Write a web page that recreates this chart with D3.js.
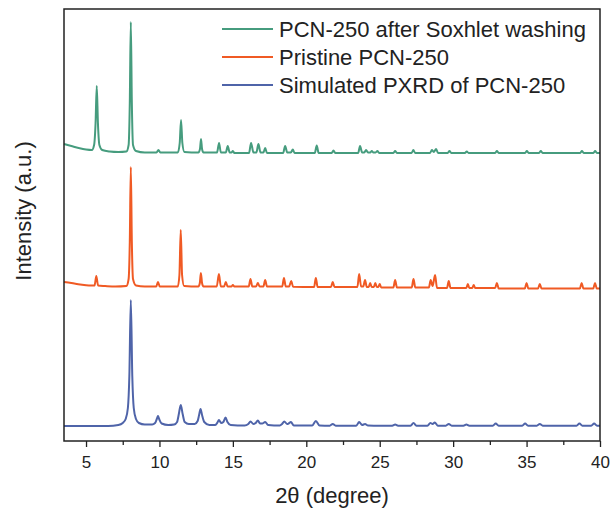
<!DOCTYPE html>
<html>
<head>
<meta charset="utf-8">
<script src="https://cdn.jsdelivr.net/npm/d3@7"></script>
<style>
  body { margin: 0; background: #fff; }
  text { font-family: "Liberation Sans", Arial, sans-serif; fill: #222; }
</style>
</head>
<body>
<svg id="chart" width="613" height="510"></svg>
<script>
// 2theta (deg), intensity above each pattern's own baseline (a.u.)
var soxhlet = [
  [3.5,9],[4.0,7],[4.5,5],[5.0,3.5],[5.4,3],[5.55,8],[5.65,30],[5.73,67],[5.81,30],[5.91,8],[6.1,3],[6.6,1.5],[7.2,1],
  [7.75,1.5],[7.9,8],[7.98,50],[8.05,131],[8.12,50],[8.2,8],[8.4,2],[9.0,0.5],[9.8,0.5],[9.93,3],[10.06,0.5],
  [11.25,0.5],[11.38,10],[11.47,33],[11.56,10],[11.7,1],[12.65,0.5],[12.76,4],[12.83,14],[12.9,4],[13.0,0.5],
  [13.92,0.5],[14.06,10],[14.18,0.5],[14.52,0.5],[14.65,7],[14.78,0.5],[14.9,0.5],[15.0,2],[15.1,0],
  [16.1,0],[16.24,10],[16.4,0.5],[16.6,0.5],[16.74,9],[16.88,0.5],[17.08,0.5],[17.2,5],[17.32,0],
  [18.42,0],[18.56,7],[18.7,0.5],[18.95,0.5],[19.08,3.5],[19.2,0],[20.58,0],[20.71,7.5],[20.84,0],
  [21.73,0],[21.85,2.5],[21.97,0],[23.53,0],[23.66,7],[23.8,0.5],[23.95,0.5],[24.07,3],[24.2,0.5],
  [24.35,0.5],[24.46,2],[24.57,0.5],[24.72,0.5],[24.84,2],[24.96,0],[25.93,0],[26.05,2],[26.17,0],
  [27.17,0],[27.29,3],[27.41,0],[28.43,0],[28.55,3],[28.68,1],[28.84,4],[28.97,0],[29.63,0],[29.75,2],[29.87,0],
  [30.8,0],[30.93,1.5],[31.05,0],[32.86,0],[32.98,2],[33.1,0],[34.9,0],[35.02,2],[35.14,0],[35.85,0],[35.97,2],[36.09,0],
  [38.65,0],[38.77,2],[38.89,0],[39.55,0],[39.67,2],[39.79,0],[40,0]
];

var pristine = [
  [3.5,5],[4.0,4],[4.6,2.5],[5.2,1.5],[5.58,1.5],[5.7,11],[5.82,1.5],[6.3,1],[7.0,0.5],
  [7.75,1],[7.9,8],[7.98,45],[8.05,120],[8.12,45],[8.2,8],[8.4,1.5],[9.0,0.5],[9.78,0.5],[9.9,5],[10.02,0.5],
  [11.25,0.5],[11.36,12],[11.45,57],[11.54,12],[11.68,1],[12.65,0.5],[12.75,4],[12.82,14],[12.9,4],[13.0,0.5],
  [13.9,0.5],[14.05,13],[14.18,0.5],[14.4,0.5],[14.52,5],[14.64,0.5],[14.9,0.5],[15.0,2],[15.1,0.5],
  [16.08,0.5],[16.2,8],[16.32,0.5],[16.58,0.5],[16.7,4],[16.82,0.5],[17.08,0.5],[17.2,7],[17.32,0.5],
  [18.36,0.5],[18.48,9],[18.6,0.5],[18.83,0.5],[18.97,6],[19.1,0.3],[20.53,0],[20.65,9],[20.77,0],
  [21.68,0],[21.8,5],[21.92,0],[23.48,0],[23.6,13],[23.73,0.5],[23.88,0.5],[24.0,7],[24.12,0],
  [24.25,0],[24.35,4],[24.45,0],[24.6,0],[24.7,4],[24.8,0],[24.9,0],[25.0,3],[25.1,-0.5],
  [25.93,-0.5],[26.05,7],[26.17,-0.5],[27.18,-0.5],[27.3,8],[27.42,-0.5],[28.35,-0.5],[28.47,7],[28.6,1],[28.77,12],[28.9,-1],
  [29.58,-1],[29.7,6],[29.82,-1],[30.9,-1],[31.0,3],[31.1,-1],[31.3,-1],[31.4,2],[31.5,-1],
  [32.86,-1],[32.98,4],[33.1,-1.5],[34.88,-1.5],[35.0,4],[35.12,-1.5],[35.78,-1.5],[35.9,3],[36.02,-1.5],
  [38.63,-1.5],[38.75,4],[38.87,-1.5],[39.54,-1.5],[39.66,4],[39.78,-1.5],[40,-1.5]
];

var simulated = [
  [3.5,0],[6.5,0],[7.2,1],[7.5,3],[7.7,7],[7.85,18],[7.95,50],[8.05,126],[8.15,50],[8.25,18],[8.4,7],[8.6,3],
  [9.0,1.5],[9.5,1.5],[9.7,3],[9.82,7],[9.9,10],[9.98,7],[10.15,2.5],[10.6,1],[11.0,1.5],[11.2,4],[11.32,12],
  [11.45,21],[11.58,12],[11.72,4],[12.0,2],[12.4,2],[12.6,5],[12.7,11],[12.8,17],[12.9,11],[13.05,4],[13.4,1],
  [13.8,1],[13.95,3.5],[14.05,6],[14.2,3],[14.35,4],[14.5,8.5],[14.63,4],[14.85,1],[15.8,0.5],[16.05,2],[16.2,4.5],
  [16.4,2],[16.55,3],[16.7,5.5],[16.85,2.5],[17.0,2.5],[17.2,4],[17.4,1],[18.2,0.5],[18.35,2],[18.5,4.5],[18.7,2],
  [18.8,2.5],[18.95,4],[19.15,0.5],[20.4,0.5],[20.65,5],[20.9,0.5],[21.6,0.3],[21.8,2],[22.0,0.3],
  [23.4,0.3],[23.6,4],[23.8,1],[24.0,2],[24.2,0.5],[25.0,0.3],[25.85,0.3],[26.05,1.5],[26.25,0.3],
  [27.1,0.3],[27.3,3],[27.5,0.3],[28.25,0.3],[28.45,3],[28.6,2],[28.75,3.5],[28.95,0.3],[29.5,0.3],[29.7,2],[29.9,0.3],
  [30.7,0.3],[30.9,1.5],[31.1,0.3],[32.7,0.3],[32.9,2.5],[33.1,0.3],[34.7,0.3],[34.9,2.5],[35.1,0.3],
  [35.7,0.3],[35.9,2],[36.1,0.3],[38.4,0.3],[38.6,2.5],[38.8,0.3],[39.4,0.3],[39.6,2.5],[39.8,0.3],[40,0.3]
];

var names   = ["PCN-250 after Soxhlet washing", "Pristine PCN-250", "Simulated PXRD of PCN-250"];
var colors  = ["#469c7e", "#f05a24", "#4f64a9"];
var offsets = [288, 154, 15];   // vertical stacking of the three patterns
var xTicks  = [5, 10, 15, 20, 25, 30, 35, 40];
var xMinor  = [7.5, 12.5, 17.5, 22.5, 27.5, 32.5, 37.5];

var series = [soxhlet, pristine, simulated];

var svg = d3.select("#chart");
var x = d3.scaleLinear().domain([3.5, 40]).range([64, 600]);
var y = d3.scaleLinear().domain([0, 432]).range([441, 9]);

var line = d3.line()
    .x(function(d){ return x(d[0]) })
    .y(function(d){ return y(d[1]) })
    .curve(d3.curveMonotoneX);

svg.selectAll("path.trace")
    .data(series)
    .enter()
    .append("path")
    .attr("class", "trace")
    .attr("fill", "none")
    .attr("stroke", function(d, i){ return colors[i] })
    .attr("stroke-width", 2)
    .attr("stroke-linejoin", "round")
    .attr("d", function(d, i){
        return line(d.map(function(p){ return [p[0], p[1] + offsets[i]] }))
    });

// minor ticks first, then major ticks with labels
svg.append("g")
    .attr("transform", "translate(0,441)")
    .call(d3.axisBottom(x).tickValues(xMinor).tickSize(4).tickFormat(""))
    .call(function(g){ g.select(".domain").remove() })
    .selectAll("line").attr("stroke", "#222").attr("stroke-width", 1.3);

var xAxis = svg.append("g")
    .attr("transform", "translate(0,441)")
    .call(d3.axisBottom(x).tickValues(xTicks).tickSize(6).tickPadding(9).tickFormat(d3.format("d")));
xAxis.select(".domain").remove();
xAxis.selectAll("line").attr("stroke", "#222").attr("stroke-width", 1.3);
xAxis.selectAll("text")
    .attr("font-size", 17)
    .attr("font-family", "'Liberation Sans', Arial, sans-serif")
    .attr("fill", "#222");

// plot frame
svg.append("rect")
    .attr("x", 64).attr("y", 9)
    .attr("width", 536).attr("height", 432)
    .attr("fill", "none")
    .attr("stroke", "#222")
    .attr("stroke-width", 1.5);

svg.append("text")
    .attr("x", 332).attr("y", 503)
    .attr("text-anchor", "middle")
    .attr("font-size", 22)
    .text("2θ (degree)");

svg.append("text")
    .attr("transform", "translate(31,211) rotate(-90)")
    .attr("text-anchor", "middle")
    .attr("font-size", 22)
    .text("Intensity (a.u.)");

// legend
var legend = svg.selectAll("g.legend")
    .data(names)
    .enter()
    .append("g")
    .attr("class", "legend")
    .attr("transform", function(d, i){ return "translate(222," + (29 + i * 28) + ")" });

legend.append("line")
    .attr("x1", 0).attr("x2", 51)
    .attr("stroke", function(d, i){ return colors[i] })
    .attr("stroke-width", 2);

legend.append("text")
    .attr("x", 57).attr("dy", "0.35em")
    .attr("font-size", 22)
    .text(function(d){ return d });
</script>
</body>
</html>
